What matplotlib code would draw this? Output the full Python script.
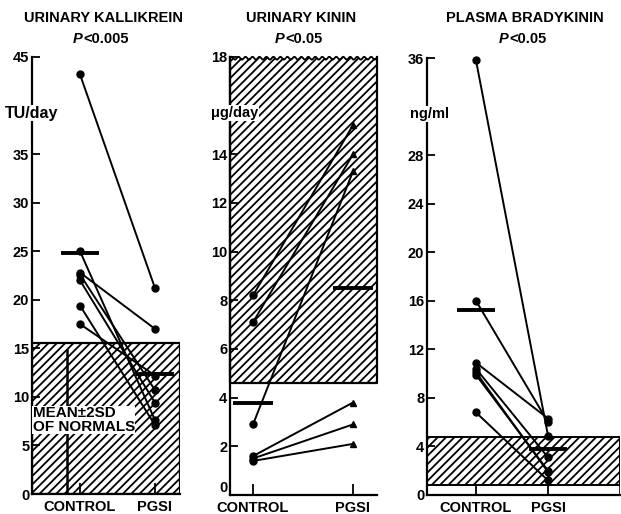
import numpy as np
import matplotlib
matplotlib.use("Agg")
import matplotlib.pyplot as plt
from matplotlib.patches import Rectangle

plt.rcParams['font.family'] = ['Liberation Sans', 'DejaVu Sans']
plt.rcParams['font.weight'] = 'bold'
plt.rcParams['hatch.linewidth'] = 1.3

W, H = 621, 514
groups = ["CONTROL", "PGSI"]

# urinary kallikrein (TU/day)
kal_ctrl = [43.2, 25.0, 22.8, 22.6, 22.0, 19.4, 17.5]
kal_pgsi = [21.2, 7.6, 17.0, 10.7, 9.4, 7.1, 12.2]
kal_means = [24.8, 12.4]
kal_normal = [0.0, 15.5]

# urinary kinin (ug/day)
kin_ctrl = [8.2, 7.1, 2.9, 1.6, 1.5, 1.4]
kin_pgsi = [15.2, 14.0, 13.3, 3.8, 2.9, 2.1]
kin_means = [3.8, 8.5]
kin_normal = [4.6, 18.0]

# plasma bradykinin (ng/ml)
bk_ctrl = [35.8, 16.0, 10.9, 10.4, 10.1, 9.9, 6.8]
bk_pgsi = [4.9, 6.0, 6.3, 3.1, 1.9, 2.0, 1.2]
bk_means = [15.2, 3.8]
bk_normal = [0.8, 4.8]


def px_axes(x0, x1, y_top, y_bot):
    return fig.add_axes([x0 / W, (H - y_bot) / H, (x1 - x0) / W, (y_bot - y_top) / H])


def style(ax, xlim, ymax, step, unit_tick):
    ax.set_xlim(*xlim)
    ax.set_ylim(0, ymax)
    for s in ["top", "right"]:
        ax.spines[s].set_visible(False)
    ax.spines["left"].set_linewidth(1.6)
    ax.spines["bottom"].set_linewidth(1.6)
    ticks = np.arange(0, ymax + step / 2, step)
    ax.set_yticks(ticks)
    ax.set_yticklabels(["" if t == unit_tick else "%g" % t for t in ticks],
                       fontsize=10.5, fontweight="bold")
    ax.set_xticks([1, 2])
    ax.set_xticklabels(groups, fontsize=10.5, fontweight="bold")
    ax.tick_params(axis="y", direction="in", length=6, width=1.3, pad=2)
    ax.tick_params(axis="x", direction="in", length=8, width=1.3, pad=4)
    ax.patch.set_alpha(0)


def draw_pairs(ax, ctrl, pgsi, means, pmark, halfw):
    for c, p in zip(ctrl, pgsi):
        ax.plot([1, 2], [c, p], color="black", lw=1.4, zorder=3)
    ax.plot([1] * len(ctrl), ctrl, "o", color="black", ms=5, zorder=4, clip_on=False)
    ax.plot([2] * len(pgsi), pgsi, pmark, color="black", ms=5, zorder=4, clip_on=False)
    for x, m in zip([1, 2], means):
        ax.plot([x - halfw, x + halfw], [m, m], color="black", lw=2.8,
                solid_capstyle="butt", zorder=5)


fig = plt.figure(figsize=(W / 100, H / 100), dpi=100)

# panel 1
ax1 = px_axes(32, 180, 57, 494)
xl1 = (1 - 48 / 75, 2 + 25 / 75)
style(ax1, xl1, 45, 5, 40)
ax1.add_patch(Rectangle((xl1[0], kal_normal[0]), xl1[1] - xl1[0], kal_normal[1] - kal_normal[0],
                        facecolor="white", edgecolor="black", hatch="////", lw=1.6, zorder=1))
ax1.plot([0.83, 0.83], [0, 14.8], color="black", lw=1.8, zorder=2)
draw_pairs(ax1, kal_ctrl, kal_pgsi, kal_means, "o", 19 / 75)
ax1.text(xl1[0] + 0.01, 7.6, "MEAN\u00b12SD\nOF NORMALS", fontsize=11, fontweight="bold",
         va="center", ha="left", linespacing=0.95, zorder=6,
         bbox=dict(facecolor="white", edgecolor="none", pad=0.3))
ax1.text(-0.18, 39.2, "TU/day", transform=ax1.get_yaxis_transform(), fontsize=11.5,
         fontweight="bold", va="center", ha="left",
         bbox=dict(facecolor="white", edgecolor="none", pad=0.5))

# panel 2
ax2 = px_axes(230, 377, 57, 495)
xl2 = (1 - 23 / 100, 2 + 24 / 100)
style(ax2, xl2, 18, 2, 16)
ax2.add_patch(Rectangle((xl2[0], kin_normal[0]), xl2[1] - xl2[0], kin_normal[1] - kin_normal[0] - 0.05,
                        facecolor="white", edgecolor="black", hatch="////", lw=0, zorder=1))
bx = [xl2[0], xl2[0], xl2[1], xl2[1]]
by = [kin_normal[1], kin_normal[0], kin_normal[0], kin_normal[1]]
ax2.plot(bx, by, color="black", lw=1.6, zorder=2, clip_on=False)
wx = np.linspace(xl2[0], xl2[1], 200)
ax2.plot(wx, kin_normal[1] - 0.05 + 0.06 * np.sin(wx * 90), color="black", lw=1.3,
         zorder=2, clip_on=False)
draw_pairs(ax2, kin_ctrl, kin_pgsi, kin_means, "^", 20 / 100)
ax2.text(-0.13, 15.7, "\u03bcg/day", transform=ax2.get_yaxis_transform(), fontsize=10.5,
         fontweight="bold", va="center", ha="left", zorder=6,
         bbox=dict(facecolor="white", edgecolor="none", pad=0.5))
ax2.get_yticklabels()[0].set_verticalalignment("bottom")

# panel 3
ax3 = px_axes(427, 620, 58, 495)
xl3 = (1 - 49 / 72, 2 + 72 / 72)
style(ax3, xl3, 36, 4, 32)
ax3.add_patch(Rectangle((xl3[0], 0), xl3[1] - xl3[0], bk_normal[0],
                        facecolor="white", edgecolor="black", lw=1.2, zorder=1))
ax3.add_patch(Rectangle((xl3[0], bk_normal[0]), xl3[1] - xl3[0], bk_normal[1] - bk_normal[0],
                        facecolor="white", edgecolor="black", hatch="////", lw=1.4, zorder=1))
draw_pairs(ax3, bk_ctrl, bk_pgsi, bk_means, "o", 19 / 72)
ax3.text(-0.09, 31.4, "ng/ml", transform=ax3.get_yaxis_transform(), fontsize=10.5,
         fontweight="bold", va="center", ha="left", zorder=6,
         bbox=dict(facecolor="white", edgecolor="none", pad=0.5))

titles = [("URINARY KALLIKREIN", "<0.005", 104, 101), ("URINARY KININ", "<0.05", 301, 299),
          ("PLASMA BRADYKININ", "<0.05", 525, 523)]
for name, p, cx, pcx in titles:
    fig.text(cx / W, 1 - 18 / H, name, ha="center", va="center", fontsize=10.5, fontweight="bold")
    t = fig.text(0, 1 - 39 / H, p, ha="left", va="center", fontsize=10.5, fontweight="bold")
    tp = fig.text(0, 1 - 39 / H, "P", ha="right", va="center", fontsize=10.5,
                  fontweight="bold", style="italic")
    r = fig.canvas.get_renderer()
    wp = tp.get_window_extent(r).width
    wt = t.get_window_extent(r).width
    left = pcx - (wp + wt + 1) / 2
    tp.set_x((left + wp) / W)
    t.set_x((left + wp + 1) / W)

fig.savefig("out.png", dpi=100)
